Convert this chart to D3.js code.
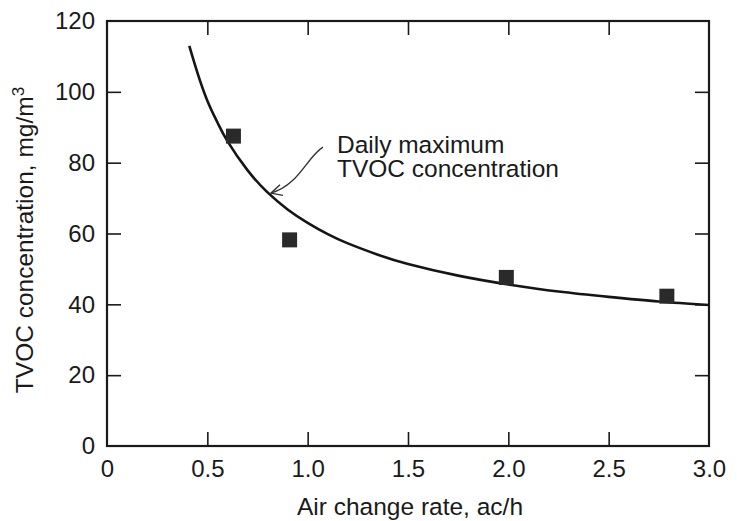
<!DOCTYPE html>
<html>
<head>
<meta charset="utf-8">
<script src="https://cdn.jsdelivr.net/npm/d3@7"></script>
<style>
  body { margin: 0; background: #fff; }
  text { font-family: "Liberation Sans", Arial, Helvetica, sans-serif; fill: #1a1a1a; }
</style>
</head>
<body>
<svg id="chart"></svg>
<script>
// measured points (air change rate, TVOC)
var pointX = [0.63, 0.91, 1.99, 2.79];
var pointY = [87.5, 58.2, 47.6, 42.3];

// curve
var curveX = [0.41, 0.45, 0.5, 0.55, 0.6, 0.7, 0.8, 0.9, 1.0, 1.1, 1.2, 1.35, 1.5, 1.75, 2.0, 2.25, 2.5, 2.75, 3.0];
var curveY = [113, 105.5, 97.5, 91.4, 86.1, 77.9, 71.6, 66.8, 63, 59.8, 57.2, 54, 51.4, 48.1, 45.6, 43.6, 42.1, 40.8, 39.8];

var xTicks = [0, 0.5, 1.0, 1.5, 2.0, 2.5, 3.0];
var yTicks = [0, 20, 40, 60, 80, 100, 120];

var noteLines = ["Daily maximum", "TVOC concentration"];

var margin = {top: 21, right: 28, bottom: 75, left: 107};
var W = 737, H = 521;
var width = W - margin.left - margin.right;
var height = H - margin.top - margin.bottom;

var svg = d3.select('#chart').attr('width', W).attr('height', H);
var g = svg.append('g').attr('transform', `translate(${margin.left},${margin.top})`);

var x = d3.scaleLinear().domain([0, 3]).range([0, width]);
var y = d3.scaleLinear().domain([0, 120]).range([height, 0]);

// axes (ticks point inward)
var inner = function(v) { return v > 0 && v < 3; };
var innerY = function(v) { return v > 0 && v < 120; };

var xAxis = g.append('g').attr('transform', `translate(0,${height})`)
    .call(d3.axisBottom(x).tickValues(xTicks).tickSizeInner(-14).tickSizeOuter(0).tickPadding(14)
        .tickFormat(d => d === 0 ? '0' : d3.format('.1f')(d)));
var yAxis = g.append('g')
    .call(d3.axisLeft(y).tickValues(yTicks).tickSizeInner(-14).tickSizeOuter(0).tickPadding(12));
g.append('g')
    .call(d3.axisTop(x).tickValues(xTicks.filter(inner)).tickSizeInner(-14).tickSizeOuter(0).tickFormat(''));
g.append('g').attr('transform', `translate(${width},0)`)
    .call(d3.axisRight(y).tickValues(yTicks.filter(innerY)).tickSizeInner(-14).tickSizeOuter(0).tickFormat(''));

g.selectAll('.domain').remove();
g.selectAll('.tick line').attr('stroke', '#1a1a1a').attr('stroke-width', 1.6);
xAxis.selectAll('.tick line').filter(d => !inner(d)).remove();
yAxis.selectAll('.tick line').filter(d => !innerY(d)).remove();
g.selectAll('.tick text').attr('font-size', '24px').attr('fill', '#1a1a1a')
    .style('font-family', '"Liberation Sans", Arial, sans-serif');

// frame
g.append('rect')
    .attr('x', 0).attr('y', 0).attr('width', width).attr('height', height)
    .attr('fill', 'none').attr('stroke', '#1a1a1a').attr('stroke-width', 2.2);

// fitted curve
var line = d3.line()
    .x((d, i) => x(curveX[i]))
    .y((d, i) => y(curveY[i]))
    .curve(d3.curveNatural);
g.append('path')
    .datum(curveX)
    .attr('d', line)
    .attr('fill', 'none')
    .attr('stroke', '#151515')
    .attr('stroke-width', 2.6);

// squares
var sq = 15;
g.selectAll('.pt').data(pointX).enter().append('rect')
    .attr('class', 'pt')
    .attr('x', (d, i) => x(pointX[i]) - sq / 2)
    .attr('y', (d, i) => y(pointY[i]) - sq / 2)
    .attr('width', sq).attr('height', sq)
    .attr('fill', '#2a2a2a');

// annotation
svg.append('defs').append('marker')
    .attr('id', 'arr')
    .attr('viewBox', '-1 -7 13 14')
    .attr('refX', 11).attr('refY', 0)
    .attr('markerWidth', 13).attr('markerHeight', 14)
    .attr('markerUnits', 'userSpaceOnUse')
    .attr('orient', 'auto')
    .append('path')
    .attr('d', 'M0,-5.5L11,0L0,5.5')
    .attr('fill', 'none').attr('stroke', '#333').attr('stroke-width', 1.4);

var a0 = [x(1.076), y(84.4)], a1 = [x(0.817), y(71.4)];
g.append('path')
    .attr('d', `M${a0[0]},${a0[1]} C${a0[0] - 16},${a0[1] + 10} ${a0[0] - 24},${a1[1] - 8} ${a1[0]},${a1[1]}`)
    .attr('fill', 'none').attr('stroke', '#333').attr('stroke-width', 1.4)
    .attr('marker-end', 'url(#arr)');

g.append('text')
    .attr('x', x(1.146)).attr('y', y(82.6))
    .attr('font-size', '24.5px')
    .selectAll('tspan').data(noteLines).enter().append('tspan')
    .attr('x', x(1.146)).attr('dy', (d, i) => i === 0 ? 0 : 24)
    .text(d => d);

// axis titles
svg.append('text')
    .attr('x', margin.left + width / 2 + 2).attr('y', 515)
    .attr('text-anchor', 'middle')
    .attr('font-size', '24.5px')
    .text('Air change rate, ac/h');

var yt = svg.append('text')
    .attr('transform', 'translate(33,240) rotate(-90)')
    .attr('text-anchor', 'middle')
    .attr('font-size', '24.5px');
yt.append('tspan').text('TVOC concentration, mg/m');
yt.append('tspan').attr('font-size', '17px').attr('dy', -9).text('3');
</script>
</body>
</html>
